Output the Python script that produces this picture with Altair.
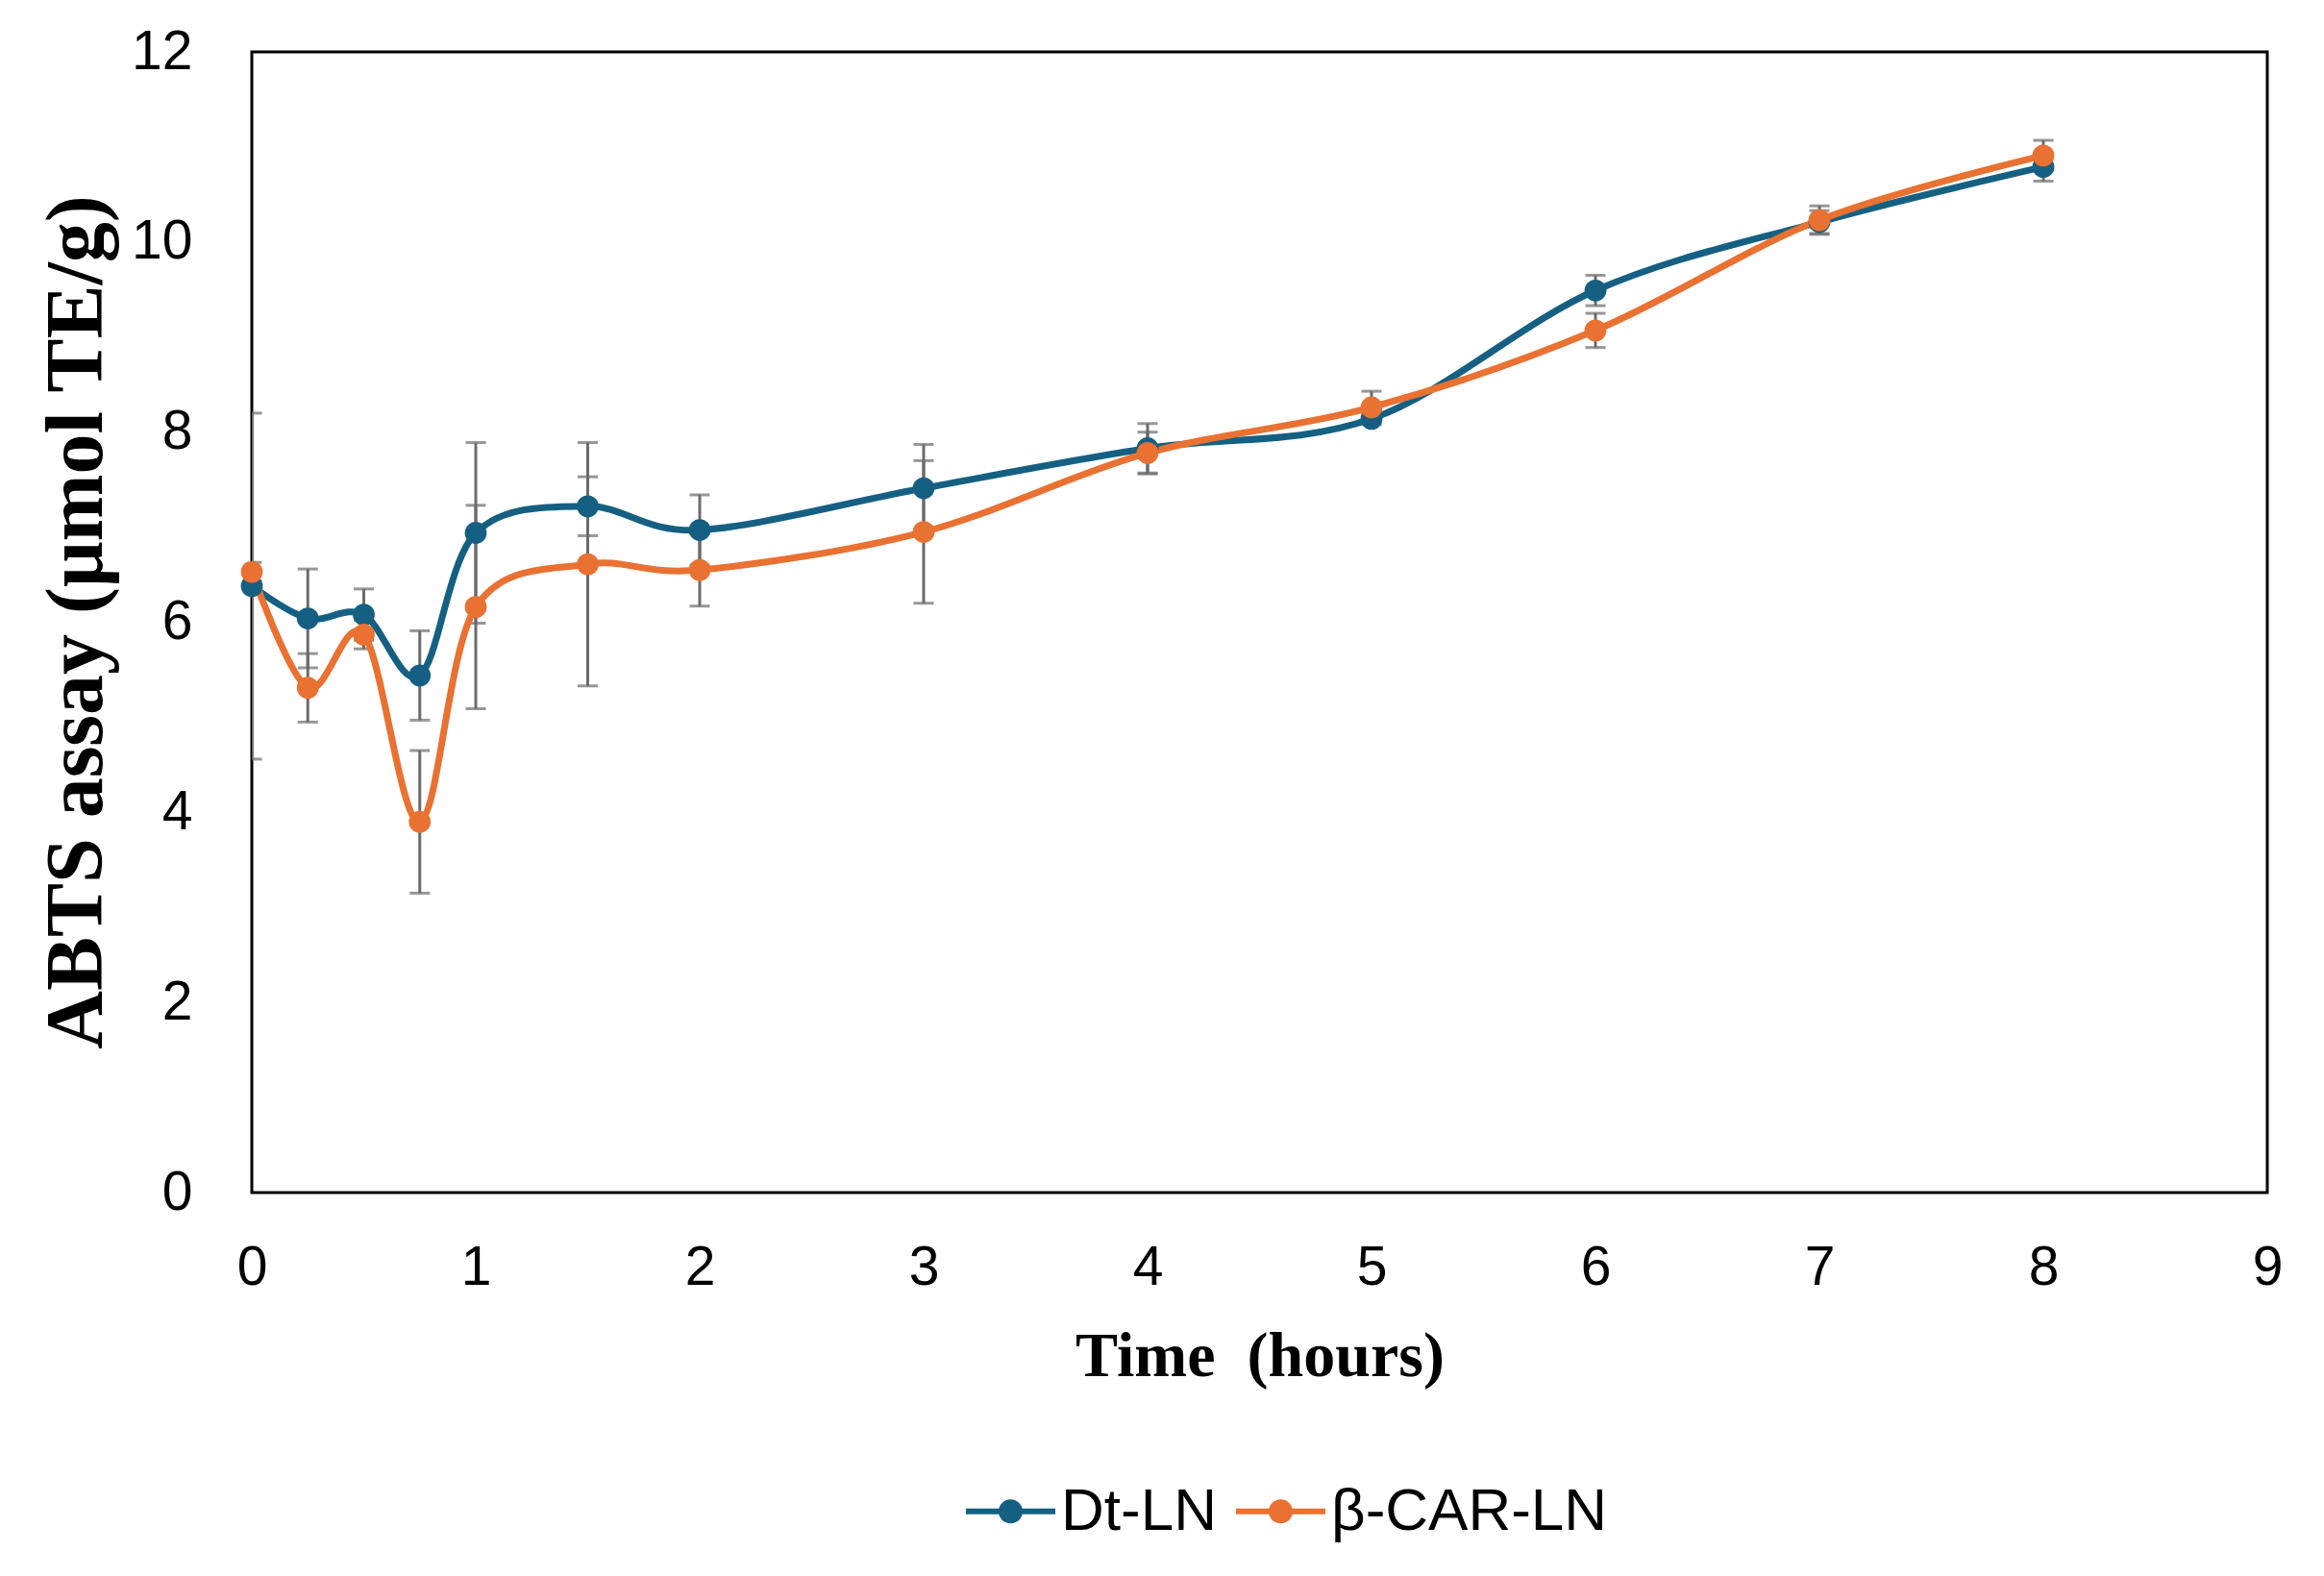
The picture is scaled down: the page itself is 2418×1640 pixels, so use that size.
import altair as alt
import pandas as pd

# Data
times = [0, 0.25, 0.5, 0.75, 1, 1.5, 2, 3, 4, 5, 6, 7, 8]
dt_ln = [6.38, 6.04, 6.08, 5.44, 6.94, 7.22, 6.97, 7.41, 7.83, 8.14, 9.49, 10.21, 10.79]
dt_ln_err = [1.82, 0.52, 0.27, 0.47, 0.95, 0.31, 0.37, 0.46, 0.26, 0.06, 0.16, 0.12, 0.15]
bcar_ln = [6.53, 5.31, 5.87, 3.90, 6.16, 6.61, 6.55, 6.95, 7.78, 8.26, 9.07, 10.23, 10.91]
bcar_ln_err = [0.10, 0.36, 0.15, 0.75, 1.07, 1.28, 0.38, 0.75, 0.22, 0.17, 0.18, 0.15, 0.16]

series_names = ["Dt-LN", "β-CAR-LN"]
series_colors = ["#156082", "#E97132"]
x_ticks = list(range(0, 10))
y_ticks = list(range(0, 13, 2))

rows = []
for name, vals, errs in [(series_names[0], dt_ln, dt_ln_err), (series_names[1], bcar_ln, bcar_ln_err)]:
    for t, v, e in zip(times, vals, errs):
        rows.append({"time": t, "value": v, "lo": v - e, "hi": v + e, "series": name})
df = pd.DataFrame(rows)

sans = "Liberation Sans"
serif = "Liberation Serif"

x_enc = alt.X(
    "time:Q",
    scale=alt.Scale(domain=[0, 9], nice=False, zero=False),
    axis=alt.Axis(
        values=x_ticks, ticks=False, domain=False, grid=False, labelFlush=False,
        labelFont=sans, labelFontSize=57, labelColor="black", labelPadding=50,
        title="Time \u00a0(hours)", titleFont=serif, titleFontWeight="bold",
        titleFontSize=66, titleColor="black", titleBaseline="top", titleY=138,
    ),
)
y_scale = alt.Scale(domain=[0, 12], nice=False)
y_axis = alt.Axis(
    values=y_ticks, ticks=False, domain=False, grid=False, labelFlush=False,
    labelFont=sans, labelFontSize=57, labelColor="black", labelPadding=62,
    title="ABTS assay (μmol TE/g)", titleFont=serif, titleFontWeight="bold",
    titleFontSize=84, titleColor="black", titleAngle=270, titleBaseline="bottom",
    titleAlign="center", titleX=-139, titleY=593,
)

legend_symbol = (
    "M-1,-0.065 L1,-0.065 L1,0.065 L-1,0.065 Z "
    "M-0.27,0 A0.27,0.27 0 1,1 0.27,0 A0.27,0.27 0 1,1 -0.27,0 Z"
)
legend = alt.Legend(
    title=None, orient="none", direction="horizontal",
    legendX=743, legendY=1472,
    symbolType=legend_symbol, symbolSize=8649, symbolStrokeWidth=0,
    labelFont=sans, labelFontSize=62, labelColor="black", labelLimit=0,
    labelOffset=6, columnPadding=20,
)
color_enc = alt.Color(
    "series:N",
    scale=alt.Scale(domain=series_names, range=series_colors),
    legend=legend,
)

base = alt.Chart(df)

errbars = base.mark_errorbar(
    color="#6b6b6b",
    clip=True,
    ticks=alt.MarkConfig(size=21, color="#6b6b6b"),
    rule=alt.MarkConfig(strokeWidth=3, color="#6b6b6b"),
).encode(
    x=x_enc,
    y=alt.Y("lo:Q", scale=y_scale, axis=y_axis),
    y2="hi:Q",
)

lines = base.mark_line(interpolate="cardinal", tension=0, strokeWidth=7).encode(
    x=x_enc,
    y=alt.Y("value:Q", scale=y_scale, axis=y_axis),
    color=color_enc,
    detail="series:N",
)

points = base.mark_point(filled=True, size=520, opacity=1).encode(
    x=x_enc,
    y=alt.Y("value:Q", scale=y_scale, axis=y_axis),
    color=color_enc,
)

chart = (
    alt.layer(errbars, lines, points)
    .properties(
        width=2097,
        height=1187,
        autosize=alt.AutoSizeParams(type="none"),
        padding={"left": 254, "top": 46, "right": 51, "bottom": 391},
        background="white",
    )
    .configure_view(stroke="black", strokeWidth=3)
    .configure_tick(thickness=3)
)

chart.save("out.html", embed_options={"renderer": "svg", "actions": False})
